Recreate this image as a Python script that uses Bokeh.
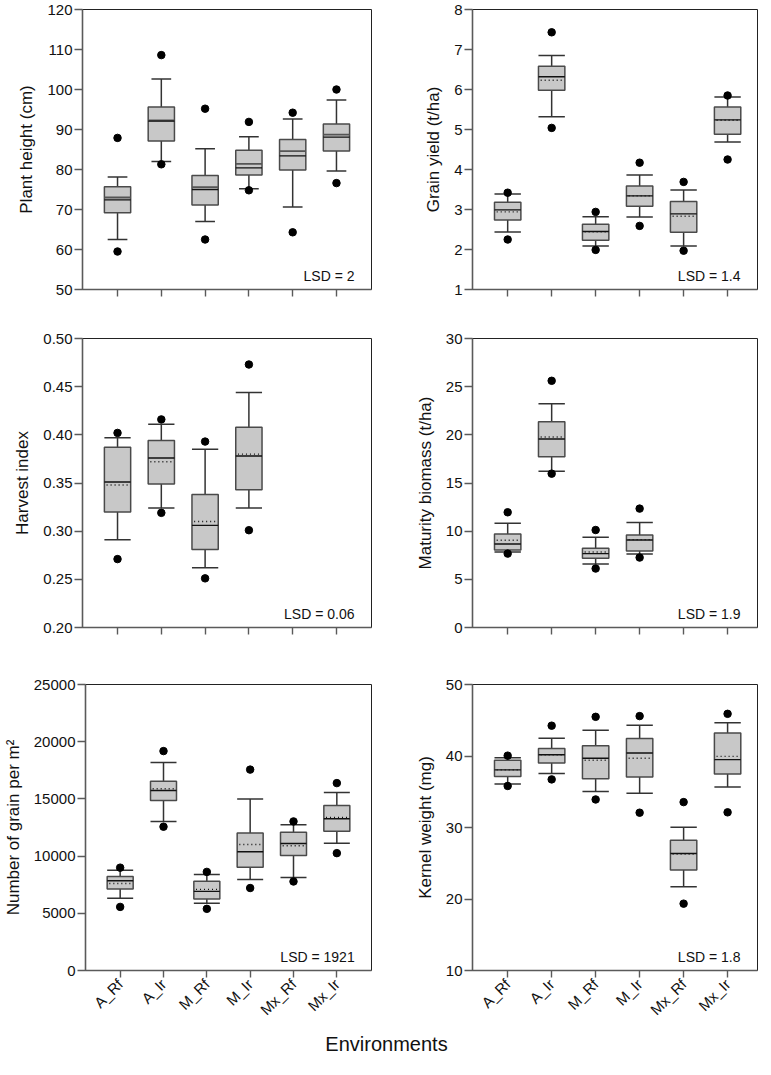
import numpy as np
from bokeh.plotting import figure
from bokeh.layouts import column, row
from bokeh.models import FixedTicker, Label, Range1d, NumeralTickFormatter, BasicTickFormatter, Div
from bokeh.embed import file_html
from bokeh.resources import INLINE

environments = ["A_Rf", "A_Ir", "M_Rf", "M_Ir", "Mx_Rf", "Mx_Ir"]

# Plant height (cm)
ph_out_hi = [87.9, 108.6, 95.2, 91.9, 94.2, 100.0]
ph_wh_hi = [78.1, 102.6, 85.2, 88.2, 92.6, 97.4]
ph_q3 = [75.7, 95.6, 78.5, 84.8, 87.5, 91.4]
ph_mean = [73.0, 92.3, 75.6, 81.4, 84.6, 88.7]
ph_median = [72.4, 92.1, 75.0, 80.4, 83.4, 88.1]
ph_q1 = [69.2, 87.1, 71.1, 78.6, 79.9, 84.6]
ph_wh_lo = [62.5, 82.0, 67.0, 75.2, 70.6, 79.6]
ph_out_lo = [59.5, 81.3, 62.5, 74.8, 64.3, 76.6]

# Grain yield (t/ha)
gy_out_hi = [3.42, 7.43, 2.94, 4.17, 3.69, 5.85]
gy_wh_hi = [3.39, 6.85, 2.82, 3.86, 3.49, 5.81]
gy_q3 = [3.18, 6.58, 2.63, 3.59, 3.20, 5.56]
gy_median = [2.99, 6.32, 2.45, 3.34, 2.89, 5.24]
gy_mean = [2.94, 6.23, 2.44, 3.34, 2.83, 5.23]
gy_q1 = [2.74, 5.98, 2.23, 3.08, 2.43, 4.88]
gy_wh_lo = [2.44, 5.32, 2.09, 2.81, 2.09, 4.69]
gy_out_lo = [2.25, 5.04, 1.99, 2.59, 1.97, 4.25]

# Harvest index (only first four environments)
hi_out_hi = [0.402, 0.416, 0.393, 0.473]
hi_wh_hi = [0.397, 0.411, 0.385, 0.444]
hi_q3 = [0.387, 0.394, 0.338, 0.408]
hi_median = [0.351, 0.376, 0.306, 0.378]
hi_mean = [0.348, 0.372, 0.310, 0.380]
hi_q1 = [0.320, 0.349, 0.281, 0.343]
hi_wh_lo = [0.291, 0.324, 0.262, 0.324]
hi_out_lo = [0.271, 0.319, 0.251, 0.301]

# Maturity biomass (t/ha) (only first four environments)
mb_out_hi = [11.96, 25.61, 10.12, 12.34]
mb_wh_hi = [10.82, 23.22, 9.36, 10.89]
mb_q3 = [9.71, 21.36, 8.22, 9.61]
mb_mean = [9.05, 19.77, 7.84, 9.12]
mb_median = [8.67, 19.56, 7.67, 9.09]
mb_q1 = [8.05, 17.73, 7.19, 7.95]
mb_wh_lo = [7.84, 16.21, 6.60, 7.64]
mb_out_lo = [7.67, 15.97, 6.12, 7.26]

# Number of grain per m2
gn_out_hi = [8990, 19180, 8620, 17560, 13030, 16380]
gn_wh_hi = [8760, 18190, 8390, 14990, 12740, 15570]
gn_q3 = [8220, 16550, 7810, 12020, 12080, 14420]
gn_median = [7840, 15740, 6920, 10380, 11100, 13260]
gn_mean = [7610, 15890, 7090, 11010, 10900, 13380]
gn_q1 = [7120, 14850, 6250, 9020, 10060, 12170]
gn_wh_lo = [6310, 13030, 5880, 7960, 8130, 11130]
gn_out_lo = [5560, 12570, 5390, 7210, 7780, 10260]

# Kernel weight (mg)
kw_out_hi = [40.05, 44.24, 45.48, 45.58, 33.55, 45.90]
kw_wh_hi = [39.77, 42.49, 43.59, 44.29, 30.05, 44.65]
kw_q3 = [39.40, 41.06, 41.43, 42.44, 28.20, 43.23]
kw_median = [38.06, 40.18, 39.68, 40.41, 26.36, 39.49]
kw_mean = [38.06, 40.18, 39.40, 39.68, 26.27, 39.95]
kw_q1 = [37.14, 39.03, 36.82, 37.05, 24.06, 37.47]
kw_wh_lo = [36.08, 37.56, 35.02, 34.79, 21.71, 35.67]
kw_out_lo = [35.81, 36.73, 33.92, 32.07, 19.35, 32.12]

lsd_texts = ["LSD = 2", "LSD = 1.4", "LSD = 0.06", "LSD = 1.9", "LSD = 1921", "LSD = 1.8"]

ph_ticks = [50, 60, 70, 80, 90, 100, 110, 120]
gy_ticks = [1, 2, 3, 4, 5, 6, 7, 8]
hi_ticks = [0.20, 0.25, 0.30, 0.35, 0.40, 0.45, 0.50]
mb_ticks = [0, 5, 10, 15, 20, 25, 30]
gn_ticks = [0, 5000, 10000, 15000, 20000, 25000]
kw_ticks = [10, 20, 30, 40, 50]

FONT = "Liberation Sans"
BOX_FILL = "#c8c8c8"
BOX_LINE = "#4a4a4a"
AXIS_COL = "#5a5a5a"


def make_panel(width, height, borders, x_end, ticks, ylabel, show_xlabels, lsd, fmt=None):
    left, right, top, bottom = borders
    p = figure(width=width, height=height, output_backend="svg", toolbar_location=None,
               x_range=Range1d(0.2, x_end), y_range=Range1d(ticks[0], ticks[-1]),
               min_border_left=left, min_border_right=right,
               min_border_top=top, min_border_bottom=bottom,
               background_fill_color="white", border_fill_color="white")
    p.xgrid.visible = False
    p.ygrid.visible = False
    p.outline_line_color = "#222222"
    p.outline_line_width = 1
    for ax in (p.xaxis[0], p.yaxis[0]):
        ax.axis_line_color = AXIS_COL
        ax.axis_line_width = 1.6
        ax.major_tick_line_color = AXIS_COL
        ax.major_tick_line_width = 1.4
        ax.major_tick_in = 0
        ax.minor_tick_line_color = None
        ax.major_label_text_font = FONT
        ax.major_label_text_color = "#111111"
    p.yaxis.ticker = FixedTicker(ticks=ticks)
    p.yaxis.major_tick_out = 8
    p.yaxis.major_label_standoff = 2
    p.yaxis.major_label_text_font_size = "15px"
    if fmt is not None:
        p.yaxis.formatter = fmt
    p.yaxis.axis_label = ylabel
    p.yaxis.axis_label_text_font = FONT
    p.yaxis.axis_label_text_font_size = "17px"
    p.yaxis.axis_label_text_font_style = "normal"
    p.yaxis.axis_label_text_color = "#111111"
    p.yaxis.axis_label_standoff = 8
    xt = list(range(1, len(environments) + 1))
    p.xaxis.ticker = FixedTicker(ticks=xt)
    p.xaxis.major_tick_out = 7
    if show_xlabels:
        p.xaxis.major_label_overrides = {t: e for t, e in zip(xt, environments)}
        p.xaxis.major_label_orientation = np.pi / 4
        p.xaxis.major_label_text_font_size = "15px"
        p.xaxis.major_label_standoff = 4
    else:
        p.xaxis.major_label_overrides = {t: "" for t in xt}
        p.xaxis.major_label_text_font_size = "1px"
        p.xaxis.major_label_standoff = 0
    fw = width - left - right
    fh = height - top - bottom
    lx = x_end - 17 * (x_end - 0.2) / fw
    ly = ticks[0] + 14 * (ticks[-1] - ticks[0]) / fh
    p.add_layout(Label(x=lx, y=ly, text=lsd, text_align="right", text_baseline="alphabetic",
                       text_font=FONT, text_font_size="14px", text_color="#111111"))
    return p


def draw_boxes(p, out_hi, wh_hi, q3, median, mean, q1, wh_lo, out_lo,
               cap_w=0.6, solid_mean=False):
    n = len(q3)
    x = np.arange(1, n + 1, dtype=float)
    bw = 0.6
    # whiskers
    p.segment(x0=x, y0=q3, x1=x, y1=wh_hi, line_color="#333333", line_width=1.5)
    p.segment(x0=x, y0=q1, x1=x, y1=wh_lo, line_color="#333333", line_width=1.5)
    p.segment(x0=x - cap_w / 2, y0=wh_hi, x1=x + cap_w / 2, y1=wh_hi, line_color="#333333", line_width=1.5)
    p.segment(x0=x - cap_w / 2, y0=wh_lo, x1=x + cap_w / 2, y1=wh_lo, line_color="#333333", line_width=1.5)
    # boxes
    p.vbar(x=x, width=bw, top=q3, bottom=q1, fill_color=BOX_FILL,
           line_color=BOX_LINE, line_width=1.5)
    # mean and median
    if solid_mean:
        p.segment(x0=x - bw / 2, y0=mean, x1=x + bw / 2, y1=mean, line_color="#555555", line_width=1.8)
    else:
        p.segment(x0=x - bw / 2 + 0.05, y0=mean, x1=x + bw / 2 - 0.05, y1=mean, line_color="#111111",
                  line_width=1.4, line_dash="1 3")
    p.segment(x0=x - bw / 2, y0=median, x1=x + bw / 2, y1=median, line_color="#111111", line_width=1.4)
    # outliers
    p.scatter(x=x, y=out_hi, size=7.5, fill_color="black", line_color="black")
    p.scatter(x=x, y=out_lo, size=7.5, fill_color="black", line_color="black")


# page has an 8px margin: keep total width 763 and total height well under 1059
LW, RW = 385, 378
L_B = (82, 14)
R_B = (87, 6)
XL_END, XR_END = 6.8, 6.68

p1 = make_panel(LW, 322, (L_B[0], L_B[1], 9, 33), XL_END, ph_ticks, "Plant height (cm)", False, lsd_texts[0])
draw_boxes(p1, ph_out_hi, ph_wh_hi, ph_q3, ph_median, ph_mean, ph_q1, ph_wh_lo, ph_out_lo,
           cap_w=0.45, solid_mean=True)
p2 = make_panel(RW, 322, (R_B[0], R_B[1], 9, 33), XR_END, gy_ticks, "Grain yield (t/ha)", False, lsd_texts[1])
draw_boxes(p2, gy_out_hi, gy_wh_hi, gy_q3, gy_median, gy_mean, gy_q1, gy_wh_lo, gy_out_lo)

p3 = make_panel(LW, 330, (L_B[0], L_B[1], 16, 25), XL_END, hi_ticks, "Harvest index", False, lsd_texts[2],
                fmt=NumeralTickFormatter(format="0.00"))
draw_boxes(p3, hi_out_hi, hi_wh_hi, hi_q3, hi_median, hi_mean, hi_q1, hi_wh_lo, hi_out_lo)
p4 = make_panel(RW, 330, (R_B[0], R_B[1], 16, 25), XR_END, mb_ticks, "Maturity biomass (t/ha)", False, lsd_texts[3])
draw_boxes(p4, mb_out_hi, mb_wh_hi, mb_q3, mb_median, mb_mean, mb_q1, mb_wh_lo, mb_out_lo)

p5 = make_panel(LW, 375, (L_B[0], L_B[1], 32, 54), XL_END, gn_ticks, "Number of grain per m\u00b2", True, lsd_texts[4],
                fmt=BasicTickFormatter(use_scientific=False))
draw_boxes(p5, gn_out_hi, gn_wh_hi, gn_q3, gn_median, gn_mean, gn_q1, gn_wh_lo, gn_out_lo)
p6 = make_panel(RW, 375, (R_B[0], R_B[1], 32, 54), XR_END, kw_ticks, "Kernel weight (mg)", True, lsd_texts[5])
draw_boxes(p6, kw_out_hi, kw_wh_hi, kw_q3, kw_median, kw_mean, kw_q1, kw_wh_lo, kw_out_lo)

env_title = Div(
    text=("<div style=\"padding-left:63px;width:700px;text-align:center;"
          "font-family:'Liberation Sans';font-size:20px;line-height:24px;color:#111111;\">"
          "Environments</div>"),
    width=LW + RW, height=26)

layout = column(row(p1, p2), row(p3, p4), row(p5, p6), env_title)
open("out.html", "w").write(file_html(layout, INLINE))
